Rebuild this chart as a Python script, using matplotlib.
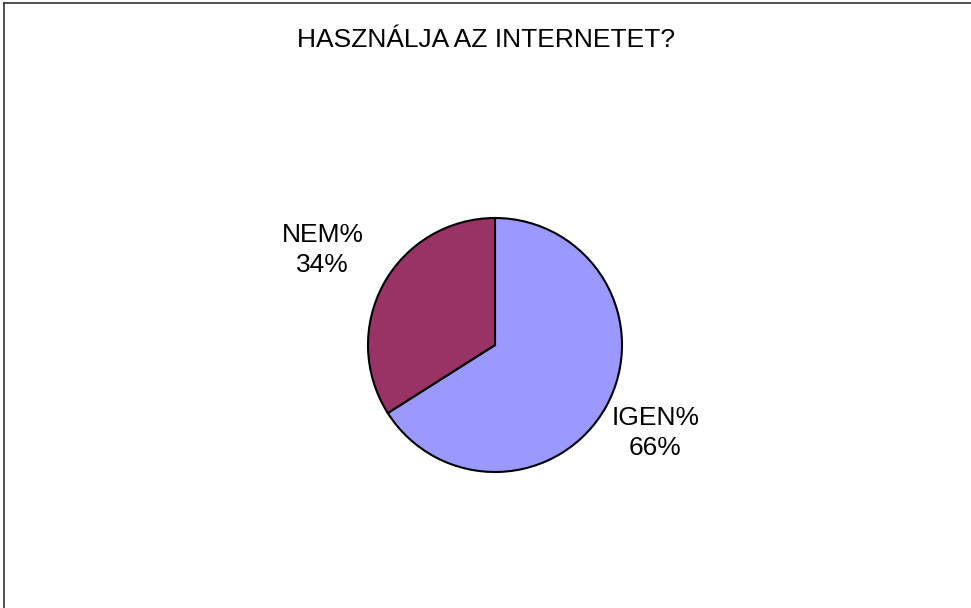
import numpy as np
import matplotlib
matplotlib.use('Agg')
import matplotlib.pyplot as plt
from matplotlib.lines import Line2D

plt.rcParams['font.family'] = ['Liberation Sans', 'DejaVu Sans']

# data
categories = ['IGEN%', 'NEM%']
values = [66, 34]
colors = ['#9999FF', '#993366']
title = 'HASZNÁLJA AZ INTERNETET?'

W, H = 971, 608
fig = plt.figure(figsize=(W / 100, H / 100), dpi=100)
fig.patch.set_facecolor('white')

# pie area: centre (495, 345) px, radius 127 px
cx, cy, r = 495, 345, 127
ax = fig.add_axes([(cx - r) / W, (H - cy - r) / H, 2 * r / W, 2 * r / H])
wedges, _ = ax.pie(values, colors=colors, startangle=90, counterclock=False,
                   radius=1.0, wedgeprops=dict(edgecolor='black', linewidth=1.5))
ax.set_xlim(-1, 1)
ax.set_ylim(-1, 1)
ax.axis('off')

# labels outside the slices
total = sum(values)
label_dist = [1.44, 1.55]
for w, name, v, d in zip(wedges, categories, values, label_dist):
    ang = np.deg2rad((w.theta1 + w.theta2) / 2)
    ax.text(d * np.cos(ang), d * np.sin(ang), f'{name}\n{v / total * 100:.0f}%',
            ha='center', va='center', multialignment='center',
            fontsize=19, linespacing=1.3, clip_on=False)

fig.text(486 / W, 1 - 40 / H, title, ha='center', va='center', fontsize=19)

# chart frame (only left and top edges visible)
fig.add_artist(Line2D([4 / W, 4 / W], [0, 1 - 3 / H], color='#333333', lw=1.2))
fig.add_artist(Line2D([4 / W, 1], [1 - 3 / H, 1 - 3 / H], color='#333333', lw=1.2))

fig.savefig('out.png', dpi=100)
